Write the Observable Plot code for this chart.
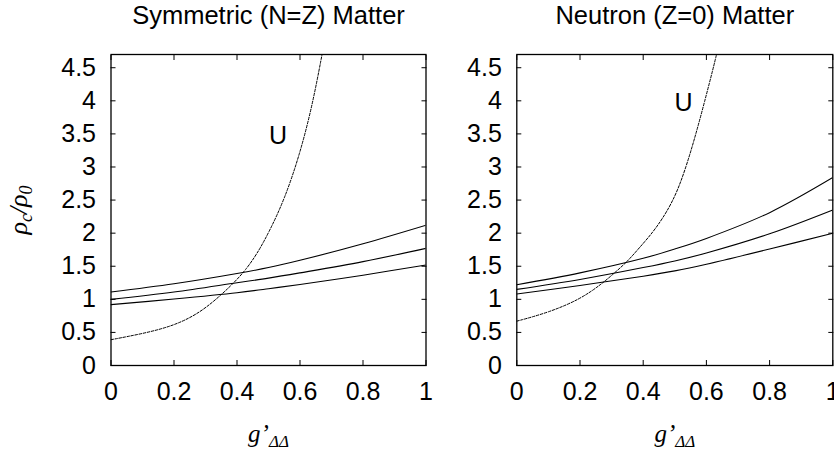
<!DOCTYPE html>
<html><head><meta charset="utf-8">
<script src="https://cdn.jsdelivr.net/npm/d3@7"></script>
<script src="https://cdn.jsdelivr.net/npm/@observablehq/plot@0.6"></script>
<style>
body{margin:0;background:#fff;}
#wrap{position:relative;width:834px;height:449px;overflow:hidden;background:#fff;}
#wrap svg{position:absolute;top:0;}
</style></head><body><div id="wrap"></div>
<script>
// ---- data ----
const xTicks = [0, 0.2, 0.4, 0.6, 0.8, 1];
const yTicks = [0, 0.5, 1, 1.5, 2, 2.5, 3, 3.5, 4, 4.5];
const panelTitles = ["Symmetric (N=Z) Matter", "Neutron (Z=0) Matter"];
const xLabel = "g’ΔΔ";
const yLabel = "ρc/ρ0";
const curveLabel = "U";

const symX   = [0, 0.2, 0.4, 0.5, 0.6, 0.8, 1];
const symTop = [1.11, 1.235, 1.39, 1.48, 1.59, 1.84, 2.12];
const symMid = [1.00, 1.11, 1.25, 1.32, 1.40, 1.57, 1.77];
const symBot = [0.92, 1.005, 1.10, 1.16, 1.225, 1.365, 1.52];
const symUx  = [0, 0.1, 0.2, 0.284, 0.353, 0.392, 0.427, 0.464, 0.5, 0.55, 0.6, 0.64, 0.67];
const symUy  = [0.39, 0.48, 0.60, 0.80, 1.08, 1.26, 1.44, 1.69, 2.0, 2.5, 3.2, 3.95, 4.7];

const neuX   = [0, 0.2, 0.4, 0.5, 0.6, 0.8, 1];
const neuTop = [1.22, 1.40, 1.62, 1.76, 1.92, 2.31, 2.84];
const neuMid = [1.15, 1.30, 1.48, 1.58, 1.70, 1.99, 2.35];
const neuBot = [1.08, 1.21, 1.35, 1.43, 1.53, 1.76, 2.00];
const neuUx  = [0, 0.1, 0.2, 0.265, 0.30, 0.35, 0.386, 0.44, 0.498, 0.536, 0.567, 0.595, 0.622, 0.632];
const neuUy  = [0.67, 0.80, 1.00, 1.22, 1.36, 1.57, 1.77, 2.06, 2.5, 3.0, 3.5, 4.0, 4.5, 4.7];

const uLabelX = [0.53, 0.528];
const uLabelY = [3.47, 3.97];

// ---- build ----
function rows(xs, named) {
  const out = [];
  for (const [s, ys] of Object.entries(named)) xs.forEach((x, i) => out.push({s, x, y: ys[i]}));
  return out;
}

const SANS = "'Liberation Sans', Arial, Helvetica, sans-serif";
const SERIF = "'Liberation Serif', 'Times New Roman', serif";

function panel(idx, solid, dashed, opts) {
  const tickMark = (anchor, axis) => axis === "x"
    ? Plot.axisX({anchor, ticks: xTicks, tickSize: -5, fill: "none", label: null, strokeWidth: 1})
    : Plot.axisY({anchor, ticks: yTicks, tickSize: -5, fill: "none", label: null, strokeWidth: 1});
  const svg = Plot.plot({
    width: opts.width, height: 449,
    marginTop: 54, marginBottom: 84, marginLeft: opts.ml, marginRight: opts.mr,
    x: {domain: [0, 1]}, y: {domain: [0, 4.7]},
    style: {fontFamily: SANS, color: "black", background: "transparent", overflow: "visible"},
    marks: [
      Plot.axisX({anchor: "bottom", ticks: xTicks, tickSize: 0, tickPadding: 17, fontSize: 25, tickFormat: d => String(d), label: null}),
      Plot.axisY({anchor: "left", ticks: yTicks, tickSize: 0, tickPadding: 15, fontSize: 25, tickFormat: d => String(d), label: null}),
      tickMark("bottom", "x"), tickMark("top", "x"), tickMark("left", "y"), tickMark("right", "y"),
      Plot.line(solid, {x: "x", y: "y", z: "s", stroke: "black", strokeWidth: 1.1, curve: "catmull-rom", clip: true}),
      Plot.line(dashed, {x: "x", y: "y", stroke: "black", strokeWidth: 1, strokeDasharray: "2.5,1.6", curve: "basis", clip: true}),
      Plot.text([curveLabel], {x: () => uLabelX[idx], y: () => uLabelY[idx], text: d => d, fontSize: 25}),
      Plot.text([panelTitles[idx]], {frameAnchor: "top", lineAnchor: "bottom", textAnchor: "middle", dy: -31, text: d => d, fontSize: 25.5}),
      Plot.text([xLabel], {frameAnchor: "bottom", lineAnchor: "bottom", textAnchor: "middle", dy: 76, text: d => d, fontSize: 25, fontFamily: SERIF, fontStyle: "italic"}),
      ...(opts.ylabel ? [Plot.text([yLabel], {frameAnchor: "left", lineAnchor: "bottom", textAnchor: "middle", dx: -84, rotate: -90, text: d => d, fontSize: 26, fontFamily: SERIF, fontStyle: "italic"})] : []),
      Plot.frame({stroke: "black", strokeWidth: 1.3})
    ]
  });
  // subscripts in axis labels
  d3.select(svg).selectAll("text").each(function () {
    const t = d3.select(this);
    const s = this.textContent;
    let parts = null;
    if (s === xLabel) parts = [["g’", 0], ["ΔΔ", 1]];
    else if (s === yLabel) parts = [["ρ", 0], ["c", 1], ["/ρ", 0], ["0", 1]];
    if (!parts) return;
    t.selectAll("*").remove(); t.text(null);
    let shift = 0;
    for (const [str, sub] of parts) {
      const ts = t.append("tspan").text(str);
      const target = sub ? 5 : 0;
      if (target !== shift) { ts.attr("dy", target - shift); shift = target; }
      if (sub) ts.attr("font-size", s === xLabel ? 17 : 18);
    }
  });
  return svg;
}

const wrap = document.getElementById("wrap");
const left = panel(0,
  rows(symX, {top: symTop, mid: symMid, bot: symBot}),
  symUx.map((x, i) => ({x, y: symUy[i]})),
  {width: 430, ml: 110.5, mr: 4.5, ylabel: true});
left.style.left = "0px";
wrap.appendChild(left);
const right = panel(1,
  rows(neuX, {top: neuTop, mid: neuMid, bot: neuBot}),
  neuUx.map((x, i) => ({x, y: neuUy[i]})),
  {width: 414, ml: 96.3, mr: 1.7, ylabel: false});
right.style.left = "420px";
wrap.appendChild(right);
</script>
</body></html>
